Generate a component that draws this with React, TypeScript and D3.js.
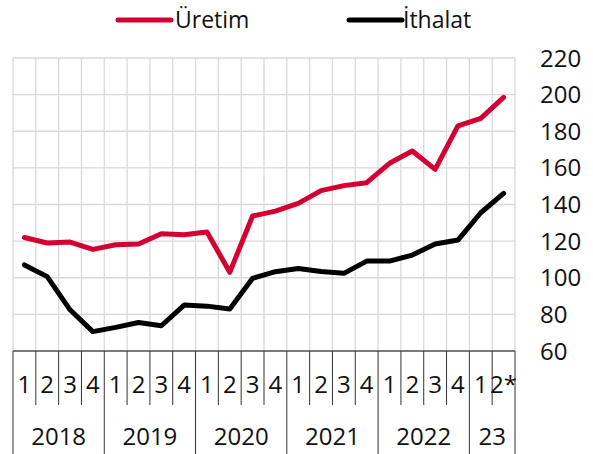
import React from "react";
import * as d3 from "d3";

const quarters = ["1","2","3","4","1","2","3","4","1","2","3","4","1","2","3","4","1","2","3","4","1","2*"];
const years = ["2018","2019","2020","2021","2022","23"];
const yearSpans = [4,4,4,4,4,2];
const uretim = [122,119,119.5,115.5,118,118.4,124,123.5,125,103,133.7,136.4,140.6,147.6,150.3,151.9,162.5,169.2,159.2,182.9,187,198.5];
const ithalat = [107,100.6,82.5,70.6,72.9,75.6,73.8,85.1,84.5,82.9,99.7,103.3,105.1,103.4,102.4,109.1,109.1,112.4,118.4,120.6,135.5,146.1];
const yTicks = [60,80,100,120,140,160,180,200,220];
const seriesNames = ["Üretim","İthalat"];
const seriesColors = ["#d50032","#000000"];

export default function App() {
  const W = 593, H = 454;
  const left = 13, right = 515, top = 58, bottom = 351;
  const x = d3.scaleBand<number>().domain(d3.range(quarters.length)).range([left, right]);
  const y = d3.scaleLinear().domain([60, 220]).range([bottom, top]);
  const cx = (i: number) => (x(i) as number) + x.bandwidth() / 2;
  const line = d3.line<number>().x((_, i) => cx(i)).y(d => y(d));
  const font = "'Open Sans', sans-serif";
  const bounds = d3.range(quarters.length + 1).map(i => left + i * x.bandwidth());
  const yearStarts: number[] = [];
  let acc = 0;
  yearSpans.forEach(s => { yearStarts.push(acc); acc += s; });
  const yearBoundIdx = new Set([...yearStarts, acc]);
  return (
    <svg width={W} height={H} style={{ position: "absolute", left: 0, top: 0 }} fontFamily={font}>
      <rect width={W} height={H} fill="#fff" />
      {yTicks.map(t => (
        <line key={"h" + t} x1={left} x2={right} y1={y(t)} y2={y(t)} stroke="#d9d9d9" strokeWidth={1.3} />
      ))}
      {bounds.map((b, i) => (
        <line key={"v" + i} x1={b} x2={b} y1={top} y2={bottom} stroke="#d9d9d9" strokeWidth={1.3} />
      ))}
      <line x1={left} x2={right} y1={bottom} y2={bottom} stroke="#595959" strokeWidth={1.3} />
      {bounds.map((b, i) => (
        <line key={"t" + i} x1={b} x2={b} y1={bottom} y2={yearBoundIdx.has(i) ? H : 405} stroke="#333" strokeWidth={1} />
      ))}
      {quarters.map((q, i) => (
        <text key={"q" + i} x={cx(i)} y={393} textAnchor="middle" fontSize={24} fill="#111">{q}</text>
      ))}
      {years.map((yr, k) => {
        const s = yearStarts[k];
        const mid = left + (s + yearSpans[k] / 2) * x.bandwidth();
        return <text key={"y" + k} x={mid} y={445} textAnchor="middle" fontSize={24} fill="#111">{yr}</text>;
      })}
      {yTicks.map(t => (
        <text key={"yl" + t} x={540} y={y(t) + 8.5} fontSize={24} fill="#111">{t}</text>
      ))}
      <path d={line(uretim) || ""} fill="none" stroke={seriesColors[0]} strokeWidth={5} strokeLinejoin="round" strokeLinecap="round" />
      <path d={line(ithalat) || ""} fill="none" stroke={seriesColors[1]} strokeWidth={5} strokeLinejoin="round" strokeLinecap="round" />
      <line x1={118} x2={171} y1={20} y2={20} stroke={seriesColors[0]} strokeWidth={5} strokeLinecap="round" />
      <text x={175} y={28} fontSize={23} fill="#111">{seriesNames[0]}</text>
      <line x1={349} x2={402} y1={20} y2={20} stroke={seriesColors[1]} strokeWidth={5} strokeLinecap="round" />
      <text x={403} y={28} fontSize={23} fill="#111">{seriesNames[1]}</text>
    </svg>
  );
}
